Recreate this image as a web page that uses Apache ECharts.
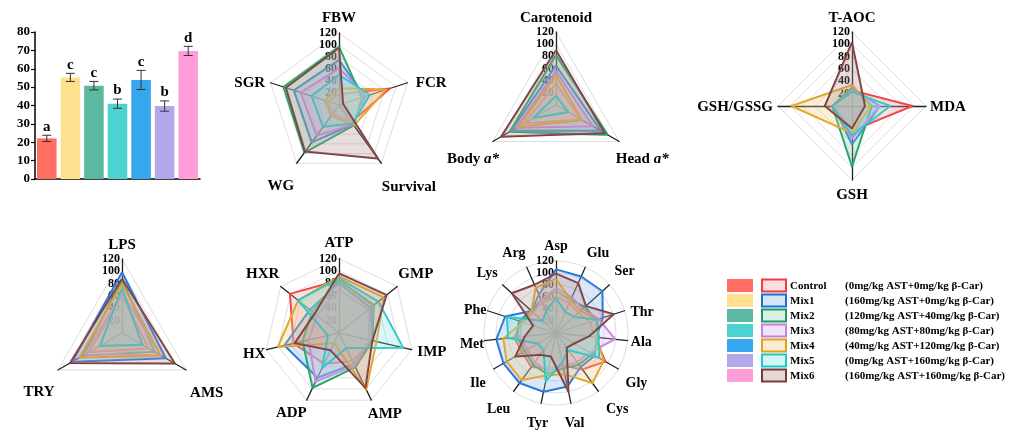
<!DOCTYPE html>
<html>
<head>
<meta charset="utf-8">
<script src="https://cdn.jsdelivr.net/npm/echarts@6/dist/echarts.min.js"></script>
<style>
html, body { margin: 0; padding: 0; background: #fff; }
#chart { width: 1021px; height: 430px; }
</style>
</head>
<body>
<div id="chart"></div>
<script>
// ---- groups ----
const groups = ['Control', 'Mix1', 'Mix2', 'Mix3', 'Mix4', 'Mix5', 'Mix6'];
const doses = [
  '(0mg/kg AST+0mg/kg β-Car)',
  '(160mg/kg AST+0mg/kg β-Car)',
  '(120mg/kg AST+40mg/kg β-Car)',
  '(80mg/kg AST+80mg/kg β-Car)',
  '(40mg/kg AST+120mg/kg β-Car)',
  '(0mg/kg AST+160mg/kg β-Car)',
  '(160mg/kg AST+160mg/kg β-Car)'
];
const barColors = ['#FF6E61', '#FFE08F', '#5CB9A1', '#4DD2D2', '#36A7EE', '#B2A7E8', '#FF9DD8'];
const lineColors = ['#F03C3C', '#1E6FD9', '#1BA063', '#C282E2', '#E0A21E', '#1FC8C8', '#7B3A3A'];
const swatchFills = ['#FCDDE0', '#D6E5F7', '#D9F0E4', '#F1E3F9', '#FAEBD2', '#D6F5F5', '#E6D7D7'];

// ---- bar chart ----
const barMeans = [22.1, 55.3, 50.8, 41.0, 53.9, 39.7, 69.7];
const barErrors = [1.7, 2.2, 2.3, 2.5, 5.2, 2.8, 2.5];
const barLetters = ['a', 'c', 'c', 'b', 'c', 'b', 'd'];

// ---- radar panels (axes listed clockwise from the top) ----
const growthAxes = ['FBW', 'FCR', 'Survival', 'WG', 'SGR'];
const growthValues = [
  [18, 89, 35, 18, 20],
  [75, 45, 40, 77, 79],
  [97, 40, 42, 98, 97],
  [61, 48, 40, 63, 67],
  [28, 83, 42, 22, 25],
  [50, 54, 38, 45, 48],
  [95, 7, 110, 96, 93]
];

const pigmentAxes = ['Carotenoid', 'Head a*', 'Body a*'];
const pigmentValues = [
  [35, 48, 60],
  [65, 85, 85],
  [82, 98, 88],
  [55, 70, 75],
  [48, 50, 71],
  [15, 23, 43],
  [90, 92, 104]
];

const antioxAxes = ['T-AOC', 'MDA', 'GSH', 'GSH/GSSG'];
const antioxValues = [
  [25, 98, 40, 30],
  [28, 45, 62, 30],
  [30, 32, 98, 32],
  [25, 45, 52, 30],
  [34, 30, 44, 98],
  [23, 62, 47, 32],
  [103, 21, 36, 44]
];

const enzymeAxes = ['LPS', 'AMS', 'TRY'];
const enzymeValues = [
  [60, 50, 62],
  [98, 82, 93],
  [85, 61, 73],
  [65, 72, 70],
  [80, 72, 80],
  [72, 38, 41],
  [88, 99, 97]
];

const nucleotideAxes = ['ATP', 'GMP', 'IMP', 'AMP', 'ADP', 'HX', 'HXR'];
const nucleotideValues = [
  [85, 70, 55, 50, 55, 75, 101],
  [80, 65, 55, 55, 80, 90, 60],
  [85, 72, 55, 61, 98, 60, 55],
  [70, 60, 50, 58, 87, 50, 45],
  [91, 92, 62, 101, 18, 101, 84],
  [88, 81, 106, 27, 62, 18, 84],
  [96, 98, 55, 98, 31, 73, 50]
];

const aminoAxes = ['Asp', 'Glu', 'Ser', 'Thr', 'Ala', 'Gly', 'Cys', 'Val', 'Tyr', 'Leu', 'Ile', 'Met', 'Phe', 'Lys', 'Arg'];
const aminoValues = [
  [60, 55, 50, 60, 65, 95, 75, 55, 60, 70, 65, 70, 60, 55, 55],
  [106, 103, 104, 82, 68, 75, 70, 91, 100, 103, 101, 100, 89, 55, 70],
  [70, 60, 65, 70, 72, 70, 65, 60, 70, 65, 60, 65, 65, 55, 60],
  [75, 65, 60, 75, 99, 65, 60, 55, 65, 60, 55, 60, 60, 50, 60],
  [90, 60, 55, 71, 68, 92, 103, 70, 72, 97, 95, 88, 58, 55, 83],
  [58, 38, 40, 72, 71, 83, 35, 50, 82, 35, 35, 80, 86, 30, 40],
  [99, 91, 67, 101, 55, 35, 30, 100, 40, 45, 78, 52, 40, 99, 88]
];

const radarMax = 120;

const SERIF = '"Liberation Serif", "Times New Roman", serif';

// ECharts lays radar axes out counter-clockwise; keep the first axis on top
// and reverse the rest so the panel reads clockwise.
function clockwise(arr) {
  return [arr[0]].concat(arr.slice(1).reverse());
}

// Blend a hex colour toward white.
function tint(hex, t) {
  const n = parseInt(hex.slice(1), 16);
  const c = [(n >> 16) & 255, (n >> 8) & 255, n & 255].map(function (v) {
    return Math.round(v + (255 - v) * t);
  });
  return 'rgb(' + c.join(',') + ')';
}

const measureCtx = document.createElement('canvas').getContext('2d');
function textWidth(s, size) {
  measureCtx.font = 'bold ' + size + 'px ' + SERIF;
  return measureCtx.measureText(s).width;
}

const panels = [
  { axes: growthAxes, values: growthValues, center: [339, 105], radius: 72, nameSize: 15, shape: 'polygon', sideFactor: 1 },
  { axes: pigmentAxes, values: pigmentValues, center: [556, 105], radius: 73, nameSize: 15, shape: 'polygon', sideFactor: 1 },
  { axes: antioxAxes, values: antioxValues, center: [852, 106], radius: 74, nameSize: 15, shape: 'polygon', sideFactor: 1 },
  { axes: enzymeAxes, values: enzymeValues, center: [122, 333], radius: 74, nameSize: 15, shape: 'polygon', sideFactor: 1 },
  { axes: nucleotideAxes, values: nucleotideValues, center: [339, 333], radius: 74.5, nameSize: 15, shape: 'polygon', sideFactor: 1 },
  { axes: aminoAxes, values: aminoValues, center: [556, 333], radius: 72, nameSize: 14, shape: 'circle', sideFactor: 0.35 }
];

// Fine nudges [dx, dy] (px) for individual axis names.
const nameNudges = {
  'FBW': [0, 1], 'FCR': [0, 8], 'Survival': [10, 0], 'WG': [-3, 5], 'SGR': [3, 8],
  'Carotenoid': [0, 2], 'Head a*': [-7, 0], 'Body a*': [10, 0],
  'T-AOC': [0, 2], 'MDA': [-4, 1], 'GSH/GSSG': [3, 1],
  'LPS': [0, 3], 'AMS': [-2, 10], 'TRY': [3, 10],
  'GMP': [-2, 4], 'IMP': [-3, -3], 'AMP': [4, -6], 'ADP': [-6, -6], 'HX': [8, 0], 'HXR': [2, 4],
  'Glu': [5, 4], 'Thr': [0, 7], 'Gly': [0, 4], 'Cys': [7, 2], 'Val': [0, 3], 'Tyr': [0, 3],
  'Leu': [-3, 2], 'Ile': [0, 5], 'Met': [2, 2], 'Phe': [5, 5], 'Lys': [0, 2], 'Arg': [-5, 4]
};

// Place each axis name with its centre beyond the axis end, pushed out by
// the half-extent of the text box along the axis direction.
function nameGapFor(name, i, n, p) {
  const a = Math.PI / 2 + i * 2 * Math.PI / n;
  const dx = Math.cos(a), dy = -Math.sin(a);
  const w = textWidth(name, p.nameSize);
  const kx = p.sideFactor + (1 - p.sideFactor) * Math.min(1, Math.abs(dy) / 0.5);
  return 8 + Math.abs(dx) * w / 2 * kx + Math.abs(dy) * p.nameSize / 2;
}

function namePadding(name) {
  const d = nameNudges[name] || [0, 0];
  return [Math.max(0, 2 * d[1]), Math.max(0, -2 * d[0]), Math.max(0, -2 * d[1]), Math.max(0, 2 * d[0])];
}

const radarOptions = panels.map(function (p) {
  const names = clockwise(p.axes);
  return {
    center: p.center,
    radius: p.radius,
    startAngle: 90,
    splitNumber: 6,
    shape: p.shape,
    indicator: names.map(function (name, i) {
      const ind = {
        name: name, min: 0, max: radarMax,
        nameGap: nameGapFor(name, i, names.length, p),
        nameTextStyle: { align: 'center', verticalAlign: 'middle', padding: namePadding(name) }
      };
      if (i > 0) ind.axisLabel = { show: false };
      return ind;
    }),
    axisName: {
      color: '#000',
      fontFamily: SERIF,
      fontWeight: 'bold',
      fontSize: p.nameSize,
      formatter: function (name) {
        return name.replace(' a*', ' {it|a*}');
      },
      rich: {
        it: { fontStyle: 'italic', fontWeight: 'bold', fontFamily: SERIF, fontSize: p.nameSize, color: '#000' }
      }
    },
    axisLine: { lineStyle: { color: '#222', width: 1.3 } },
    splitLine: { lineStyle: { color: '#dddddd', width: 1 } },
    splitArea: { show: false },
    axisTick: { show: false },
    axisLabel: {
      show: true,
      color: '#000',
      fontFamily: SERIF,
      fontWeight: 'bold',
      fontSize: 12,
      margin: 2,
      formatter: function (v) { return v === 0 ? '' : String(v); }
    }
  };
});

const radarSeries = panels.map(function (p, k) {
  return {
    type: 'radar',
    radarIndex: k,
    symbol: 'none',
    silent: true,
    data: p.values.map(function (row, g) {
      return {
        name: groups[g],
        value: clockwise(row),
        lineStyle: { color: lineColors[g], width: 2 },
        itemStyle: { color: lineColors[g] },
        areaStyle: { color: tint(lineColors[g], 0.45), opacity: 0.3 }
      };
    })
  };
});

// ---- legend ----
const legendGraphics = [];
groups.forEach(function (g, i) {
  const y = 279 + i * 15;
  legendGraphics.push({
    type: 'rect', shape: { x: 727, y: y, width: 26, height: 13 },
    style: { fill: barColors[i] }
  });
  legendGraphics.push({
    type: 'rect', shape: { x: 762, y: y + 0.5, width: 24, height: 12 },
    style: { fill: swatchFills[i], stroke: lineColors[i], lineWidth: 2 }
  });
  legendGraphics.push({
    type: 'text', x: 790, y: y + 7,
    style: { text: g, fill: '#000', font: 'bold 11px ' + SERIF, verticalAlign: 'middle' }
  });
  legendGraphics.push({
    type: 'text', x: 845, y: y + 7,
    style: { text: doses[i], fill: '#000', font: 'bold 11px ' + SERIF, verticalAlign: 'middle' }
  });
});

const option = {
  backgroundColor: '#fff',
  animation: false,
  grid: { left: 35, top: 32, width: 165, height: 147 },
  xAxis: {
    type: 'category',
    data: groups,
    axisLine: { lineStyle: { color: '#000', width: 1.5 } },
    axisTick: { show: false },
    axisLabel: { show: false }
  },
  yAxis: {
    type: 'value',
    min: 0,
    max: 80,
    interval: 10,
    axisLine: { show: true, lineStyle: { color: '#000', width: 1.5 } },
    axisTick: { show: true, length: 4, lineStyle: { color: '#000', width: 1.2 } },
    axisLabel: { color: '#000', fontFamily: SERIF, fontWeight: 'bold', fontSize: 13, margin: 5 },
    splitLine: { show: false }
  },
  radar: radarOptions,
  graphic: legendGraphics,
  series: [
    {
      type: 'bar',
      barCategoryGap: '17%',
      silent: true,
      data: barMeans.map(function (v, i) {
        return { value: v, itemStyle: { color: barColors[i] } };
      })
    },
    {
      type: 'custom',
      silent: true,
      z: 5,
      data: barMeans.map(function (m, i) { return [i, m, barErrors[i]]; }),
      renderItem: function (params, api) {
        const i = api.value(0), m = api.value(1), e = api.value(2);
        const top = api.coord([i, m + e]);
        const bot = api.coord([i, m - e]);
        const w = 4.5;
        const st = { stroke: '#333', lineWidth: 1 };
        return {
          type: 'group',
          children: [
            { type: 'line', shape: { x1: top[0], y1: top[1], x2: bot[0], y2: bot[1] }, style: st },
            { type: 'line', shape: { x1: top[0] - w, y1: top[1], x2: top[0] + w, y2: top[1] }, style: st },
            { type: 'line', shape: { x1: bot[0] - w, y1: bot[1], x2: bot[0] + w, y2: bot[1] }, style: st },
            {
              type: 'text', x: top[0], y: top[1] - 1,
              style: {
                text: barLetters[params.dataIndex], fill: '#000',
                font: 'bold 15px ' + SERIF, align: 'center', verticalAlign: 'bottom'
              }
            }
          ]
        };
      }
    }
  ].concat(radarSeries)
};

const chart = echarts.init(document.getElementById('chart'), null, { renderer: 'canvas' });
chart.setOption(option);
</script>
</body>
</html>
